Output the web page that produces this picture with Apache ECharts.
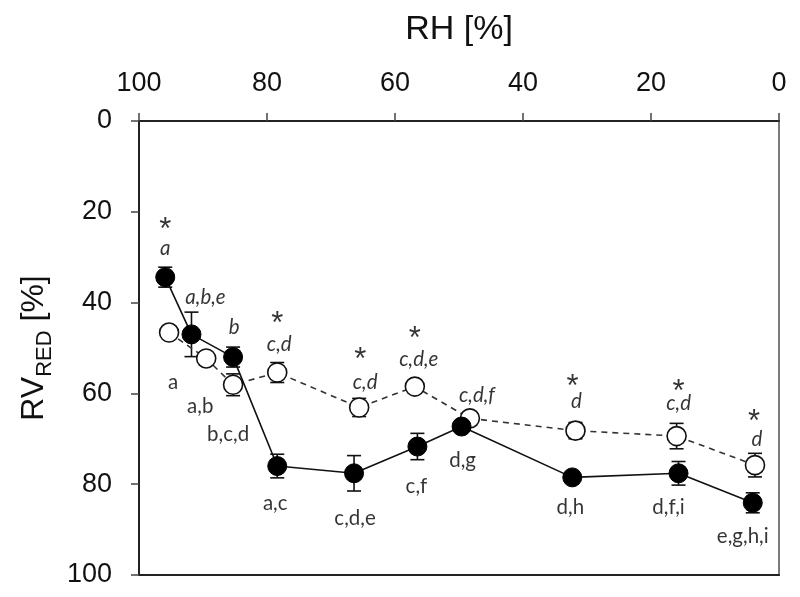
<!DOCTYPE html>
<html>
<head>
<meta charset="utf-8">
<script src="https://cdn.jsdelivr.net/npm/echarts@6/dist/echarts.min.js"></script>
<style>html,body{margin:0;padding:0;background:#fff}#c{width:800px;height:597px}</style>
</head>
<body>
<div id="c"></div>
<script>
// ---- data ----
var rhTicks = [0, 20, 40, 60, 80, 100];
var rvTicks = [0, 20, 40, 60, 80, 100];

var rhFilled  = [95.9, 91.8, 85.3, 78.4, 66.4, 56.5, 49.6, 32.3, 15.7, 4.1];
var rvFilled  = [34.4, 47.0, 52.0, 76.0, 77.6, 71.7, 67.3, 78.5, 77.6, 84.1];
var errFilled = [2.2, 4.9, 2.2, 2.6, 3.9, 2.9, 1.0, 0.8, 2.6, 2.2];

var rhOpen  = [95.3, 89.5, 85.3, 78.4, 65.6, 56.9, 48.3, 31.8, 16.0, 3.75];
var rvOpen  = [46.6, 52.3, 58.1, 55.4, 63.1, 58.5, 65.5, 68.2, 69.4, 75.8];
var errOpen = [1.0, 1.0, 2.4, 2.2, 2.0, 1.0, 1.0, 1.8, 2.8, 2.6];

// letter annotations (italic above, upright below), and asterisks
var filledTop    = ['a', 'a,b,e', 'b', '', '', '', '', '', '', ''];
var filledBottom = ['', '', '', 'a,c', 'c,d,e', 'c,f', 'd,g', 'd,h', 'd,f,i', 'e,g,h,i'];
var openTop      = ['', '', '', 'c,d', 'c,d', 'c,d,e', 'c,d,f', 'd', 'c,d', 'd'];
var openBottom   = ['a', 'a,b', 'b,c,d', '', '', '', '', '', '', ''];
var filledStar   = [true, false, false, false, false, false, false, false, false, false];
var openStar     = [false, false, false, true, true, true, false, true, true, true];

// label placement nudges (pixels, style only)
var filledTopNudge    = [[0,-29],[14,-37],[1,-30],[0,0],[0,0],[0,0],[0,0],[0,0],[0,0],[0,0]];
var filledBottomNudge = [[0,0],[0,0],[0,0],[-2,37],[1,45],[-1,40],[1,34],[-2,30],[-10,34],[-10,34]];
var openTopNudge      = [[0,0],[0,0],[0,0],[2,-28],[6,-25],[4,-27],[7,-23],[1,-29],[2,-33],[2,-26]];
var openBottomNudge   = [[4,50],[-6,48],[-5,50],[0,0],[0,0],[0,0],[0,0],[0,0],[0,0],[0,0]];
var filledStarNudge   = [[0,-47],[0,0],[0,0],[0,0],[0,0],[0,0],[0,0],[0,0],[0,0],[0,0]];
var openStarNudge     = [[0,0],[0,0],[0,0],[0,-48],[1,-47],[0,-47],[0,0],[-3,-43],[2,-44],[-1,-43]];

function pts(xs, ys) { return xs.map(function (x, i) { return [x, ys[i]]; }); }
function errPts(xs, ys, es) { return xs.map(function (x, i) { return [x, ys[i], es[i]]; }); }

function annot(xs, ys, texts, nudges, style) {
  var data = [];
  xs.forEach(function (x, i) {
    var t = texts[i];
    if (t === true) t = '*';
    if (!t) return;
    data.push({
      value: [x, ys[i]],
      label: { formatter: t, offset: nudges[i] }
    });
  });
  return {
    type: 'scatter', data: data, symbolSize: 1, silent: true, z: 10,
    itemStyle: { color: 'rgba(0,0,0,0)' },
    label: Object.assign({ show: true, position: 'inside', color: '#000' }, style)
  };
}

function errorSeries(xs, ys, es) {
  return {
    type: 'custom', z: 1, silent: true,
    data: errPts(xs, ys, es),
    encode: { x: 0, y: 1 },
    renderItem: function (params, api) {
      var x = api.value(0), y = api.value(1), e = api.value(2);
      var a = api.coord([x, y - e]), b = api.coord([x, y + e]);
      var h = 7;
      var st = { stroke: '#111', lineWidth: 1.6 };
      return { type: 'group', children: [
        { type: 'line', shape: { x1: a[0], y1: a[1], x2: b[0], y2: b[1] }, style: st },
        { type: 'line', shape: { x1: a[0] - h, y1: a[1], x2: a[0] + h, y2: a[1] }, style: st },
        { type: 'line', shape: { x1: b[0] - h, y1: b[1], x2: b[0] + h, y2: b[1] }, style: st }
      ]};
    }
  };
}

var tickFont = { fontFamily: 'Liberation Sans', fontSize: 27, color: '#111' };
var lblUp = { fontFamily: 'Lato', fontSize: 20.5 };
var lblIt = { fontFamily: 'Lato', fontSize: 20.5, fontStyle: 'italic' };
var lblStar = { fontFamily: 'Liberation Sans', fontSize: 31 };

var chart = echarts.init(document.getElementById('c'));
chart.setOption({
  animation: false,
  grid: { left: 139, right: 21, top: 121, bottom: 22, show: true, borderColor: '#7a7a7a', borderWidth: 2, backgroundColor: 'transparent' },
  xAxis: [{
    type: 'value', position: 'top', inverse: true, min: 0, max: 100, interval: 20,
    name: 'RH [%]', nameLocation: 'middle', nameGap: 74,
    nameTextStyle: { fontFamily: 'Liberation Sans', fontSize: 34, color: '#111' },
    axisLine: { show: true, lineStyle: { color: '#222', width: 2 } },
    axisTick: { show: true, inside: false, length: 8, lineStyle: { color: '#444', width: 1.5 } },
    axisLabel: Object.assign({ margin: 24, formatter: function (v) { return rhTicks.indexOf(v) >= 0 ? String(v) : ''; } }, tickFont),
    splitLine: { show: false }
  }, {
    type: 'value', position: 'bottom', inverse: true, min: 0, max: 100,
    axisLine: { show: true, onZero: false, lineStyle: { color: '#222', width: 2 } },
    axisTick: { show: false }, axisLabel: { show: false }, splitLine: { show: false }
  }],
  yAxis: {
    type: 'value', inverse: true, min: 0, max: 100, interval: 20,
    name: '{m|RV}{s|RED}{m| [%]}', nameLocation: 'middle', nameRotate: 90, nameGap: 79,
    nameTextStyle: {
      rich: {
        m: { fontFamily: 'Liberation Sans', fontSize: 32, color: '#111', lineHeight: 44 },
        s: { fontFamily: 'Liberation Sans', fontSize: 22, color: '#111', lineHeight: 22, verticalAlign: 'bottom' }
      }
    },
    axisLine: { show: true, onZero: false, lineStyle: { color: '#222', width: 2 } },
    axisTick: { show: true, inside: false, length: 8, lineStyle: { color: '#444', width: 1.5 } },
    axisLabel: Object.assign({ margin: 27, formatter: function (v) { return rvTicks.indexOf(v) >= 0 ? String(v) : ''; } }, tickFont),
    splitLine: { show: false }
  },
  series: [
    errorSeries(rhOpen, rvOpen, errOpen),
    errorSeries(rhFilled, rvFilled, errFilled),
    {
      type: 'line', data: pts(rhOpen, rvOpen), z: 3,
      symbol: 'circle', symbolSize: 19,
      itemStyle: { color: '#fff', borderColor: '#111', borderWidth: 1.6 },
      lineStyle: { color: '#333', width: 1.6, type: [6, 5] }
    },
    {
      type: 'line', data: pts(rhFilled, rvFilled), z: 4,
      symbol: 'circle', symbolSize: 19,
      itemStyle: { color: '#000', borderColor: '#000', borderWidth: 1 },
      lineStyle: { color: '#111', width: 1.6 }
    },
    annot(rhFilled, rvFilled, filledTop, filledTopNudge, lblIt),
    annot(rhFilled, rvFilled, filledBottom, filledBottomNudge, lblUp),
    annot(rhOpen, rvOpen, openTop, openTopNudge, lblIt),
    annot(rhOpen, rvOpen, openBottom, openBottomNudge, lblUp),
    annot(rhFilled, rvFilled, filledStar, filledStarNudge, lblStar),
    annot(rhOpen, rvOpen, openStar, openStarNudge, lblStar)
  ]
});
</script>
</body>
</html>
